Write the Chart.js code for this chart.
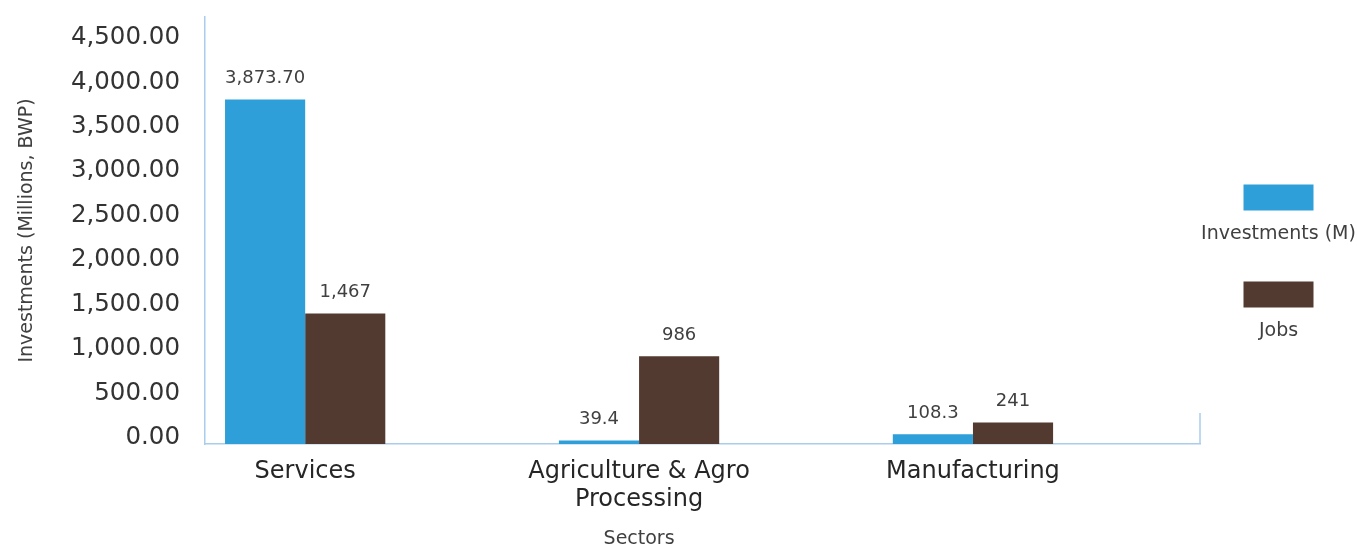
<!DOCTYPE html>
<html>
<head>
<meta charset="utf-8">
<script src="https://cdn.jsdelivr.net/npm/chart.js@4/dist/chart.umd.min.js"></script>
<style>
  html, body { margin: 0; padding: 0; background: #fff; }
  #wrap { width: 1357px; height: 548px; }
</style>
</head>
<body>
<div id="wrap"><canvas id="sector-chart"></canvas></div>
<script>
const sectors = [['Services'], ['Agriculture & Agro', 'Processing'], ['Manufacturing']];
const investments = [3873.7, 39.4, 108.3];
const investDigits = [2, 1, 1];
const jobs = [1467, 986, 241];
const yTicks = [0, 500, 1000, 1500, 2000, 2500, 3000, 3500, 4000, 4500];

const FONT = "'DejaVu Sans', sans-serif";
const BLUE = '#2E9FD8';
const BROWN = '#533A31';
const AXIS = '#A9CDEB';

const fmt = (v, d) => v.toLocaleString('en-US', { minimumFractionDigits: d, maximumFractionDigits: d });

// value labels above each bar
const barLabels = {
  id: 'barLabels',
  afterDatasetsDraw(chart) {
    const { ctx } = chart;
    ctx.save();
    ctx.font = '18px ' + FONT;
    ctx.fillStyle = '#404040';
    ctx.textAlign = 'center';
    ctx.textBaseline = 'middle';
    chart.data.datasets.forEach((ds, di) => {
      chart.getDatasetMeta(di).data.forEach((bar, i) => {
        const v = ds.data[i].y;
        const text = di === 0 ? fmt(v, investDigits[i]) : fmt(v, 0);
        ctx.fillText(text, bar.x, bar.y - 21);
      });
    });
    ctx.restore();
  },
};

// stacked legend on the right, box above its label, plus axis extras
const sideLegend = {
  id: 'sideLegend',
  afterDraw(chart) {
    const { ctx, chartArea, width } = chart;
    const cx = (chartArea.right + width) / 2;
    const midY = (chartArea.top + chartArea.bottom) / 2;
    ctx.save();
    ctx.font = '19px ' + FONT;
    ctx.textAlign = 'center';
    ctx.textBaseline = 'middle';
    chart.data.datasets.forEach((ds, i) => {
      const top = midY - 46 + i * 97;
      ctx.fillStyle = ds.backgroundColor;
      ctx.fillRect(cx - 35, top, 70, 26);
      ctx.fillStyle = '#404040';
      ctx.fillText(ds.label, cx, top + 50);
    });

    // short right-hand axis stub
    ctx.strokeStyle = AXIS;
    ctx.lineWidth = 1.5;
    ctx.beginPath();
    ctx.moveTo(chartArea.right, chartArea.bottom - 31);
    ctx.lineTo(chartArea.right, chartArea.bottom);
    ctx.stroke();

    // x axis title under the middle category
    const xs = chart.scales.x;
    ctx.font = '19px ' + FONT;
    ctx.fillStyle = '#404040';
    ctx.fillText('Sectors', xs.getPixelForValue(1), chart.height - 9);
    ctx.restore();
  },
};

const data = {
  datasets: [
    {
      label: 'Investments (M)',
      backgroundColor: BLUE,
      data: investments.map((v, i) => ({ x: i, y: v })),
    },
    {
      label: 'Jobs',
      backgroundColor: BROWN,
      data: jobs.map((v, i) => ({ x: i, y: v })),
    },
  ],
};

const config = {
  type: 'bar',
  data,
  options: {
    responsive: true,
    maintainAspectRatio: false,
    animation: false,
    categoryPercentage: 0.48,
    barPercentage: 1.0,
    layout: {
      padding: { top: 17, right: 157, left: 0, bottom: 0 },
    },
    plugins: {
      legend: { display: false },
      tooltip: { enabled: false },
    },
    scales: {
      x: {
        type: 'linear',
        min: -0.3,
        max: 2.68,
        offset: false,
        grid: { display: false, drawTicks: false },
        border: { display: true, color: AXIS, width: 1.5 },
        afterBuildTicks: (scale) => {
          scale.ticks = sectors.map((s, i) => ({ value: i }));
        },
        afterFit: (scale) => {
          scale.height = 104;
        },
        ticks: {
          autoSkip: false,
          maxRotation: 0,
          padding: 14,
          color: '#262626',
          font: { family: FONT, size: 24, lineHeight: 1.17 },
          callback: (value) => sectors[value],
        },
      },
      y: {
        min: 0,
        max: 4800,
        grid: { display: false, drawTicks: false },
        border: { display: true, color: AXIS, width: 1.5 },
        afterBuildTicks: (scale) => {
          scale.ticks = yTicks.map((v) => ({ value: v }));
        },
        afterFit: (scale) => {
          scale.width = 205;
          scale.paddingTop = 0;
          scale.paddingBottom = 0;
        },
        title: {
          display: true,
          text: 'Investments (Millions, BWP)',
          color: '#404040',
          font: { family: FONT, size: 19 },
          padding: { top: 16, bottom: 0 },
        },
        ticks: {
          padding: 25,
          labelOffset: -6,
          color: '#333333',
          font: { family: FONT, size: 24.5 },
          callback: (value) => fmt(value, 2),
        },
      },
    },
  },
  plugins: [barLabels, sideLegend],
};

new Chart(document.getElementById('sector-chart').getContext('2d'), config);
</script>
</body>
</html>
